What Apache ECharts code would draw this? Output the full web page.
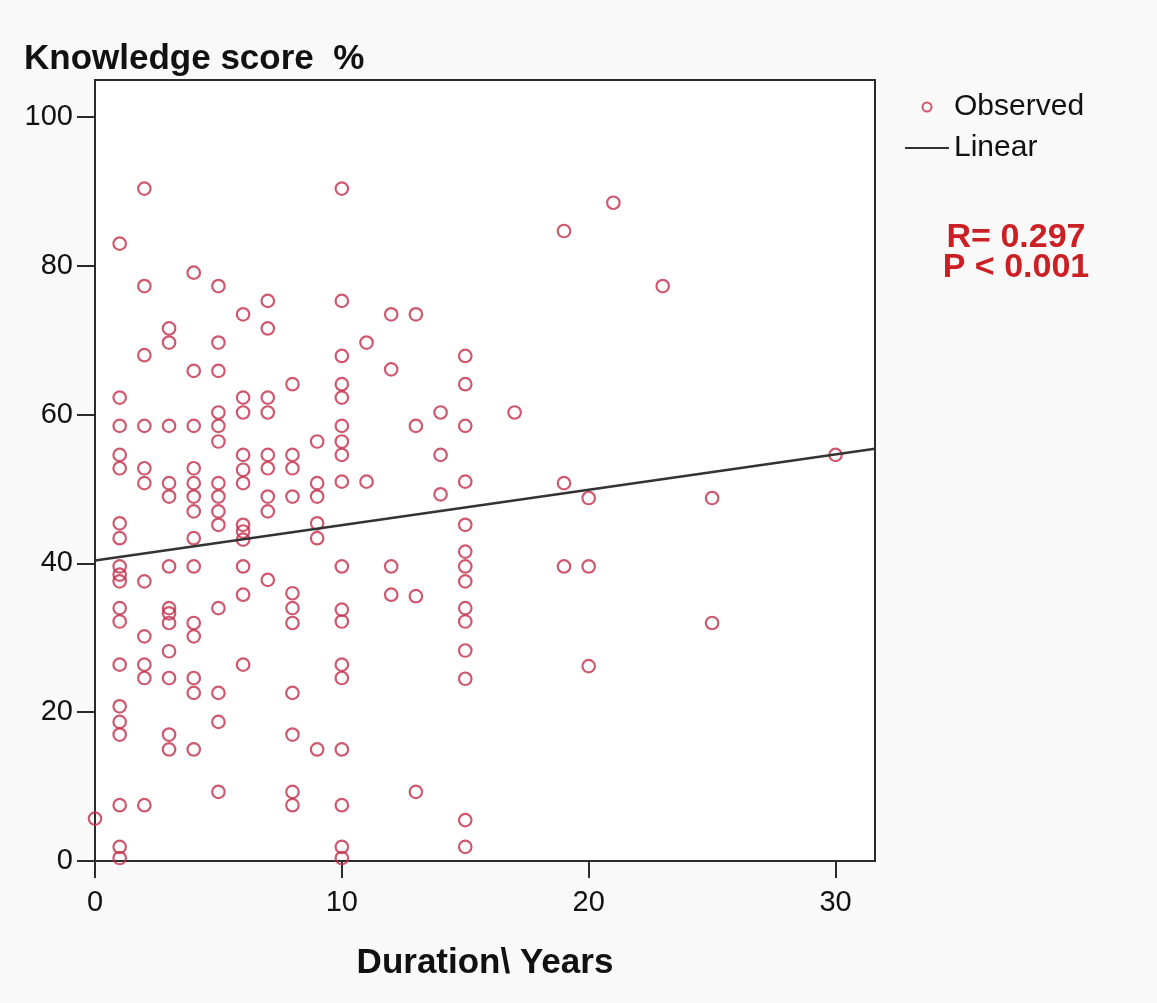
<!DOCTYPE html>
<html>
<head>
<meta charset="utf-8">
<script src="https://cdn.jsdelivr.net/npm/echarts@6/dist/echarts.min.js"></script>
<style>
html,body{margin:0;padding:0;background:#f6f6f6;}
#chart{width:1157px;height:1003px;}
</style>
</head>
<body>
<div id="chart"></div>
<script>
// Duration in years (x) and the knowledge scores observed at each duration
const years = [0, 1, 2, 3, 4, 5, 6, 7, 8, 9, 10, 11, 12, 13, 14, 15, 17, 19, 20, 21, 23, 25, 30];
const scoresByYear = [
  [5.7],
  [83, 62.3, 58.5, 54.6, 52.8, 45.4, 43.4, 39.6, 38.5, 37.6, 34, 32.2, 26.4, 20.8, 18.7, 17, 7.5, 1.9, 0.4],
  [90.4, 77.3, 68, 58.5, 52.8, 50.8, 37.6, 30.2, 26.4, 24.6, 7.5],
  [71.6, 69.7, 58.5, 50.8, 49, 39.6, 34, 33.3, 32, 28.2, 24.6, 17, 15],
  [79.1, 65.9, 58.5, 52.8, 50.8, 49, 47, 43.4, 39.6, 32, 30.2, 24.6, 22.6, 15],
  [77.3, 69.7, 65.9, 60.3, 58.5, 56.4, 50.8, 49, 47, 45.2, 34, 22.6, 18.7, 9.3],
  [73.5, 62.3, 60.3, 54.6, 52.6, 50.8, 45.2, 44.3, 43.2, 39.6, 35.8, 26.4],
  [75.3, 71.6, 62.3, 60.3, 54.6, 52.8, 49, 47, 37.8],
  [64.1, 54.6, 52.8, 49, 36, 34, 32, 22.6, 17, 9.3, 7.5],
  [56.4, 50.8, 49, 45.4, 43.4, 15],
  [90.4, 75.3, 67.9, 64.1, 62.3, 58.5, 56.4, 54.6, 51, 39.6, 33.8, 32.2, 26.4, 24.6, 15, 7.5, 1.9, 0.4],
  [69.7, 51],
  [73.5, 66.1, 39.6, 35.8],
  [73.5, 58.5, 35.6, 9.3],
  [60.3, 54.6, 49.3],
  [67.9, 64.1, 58.5, 51, 45.2, 41.6, 39.6, 37.6, 34, 32.2, 28.3, 24.5, 5.5, 1.9],
  [60.3],
  [84.7, 50.8, 39.6],
  [48.8, 39.6, 26.2],
  [88.5],
  [77.3],
  [48.8, 32],
  [54.6]
];
// Linear fit
const fitIntercept = 40.4;
const fitSlope = 0.475;
// Axes
const xRange = [0, 31.6];
const yRange = [0, 105];
const xTicks = [0, 10, 20, 30];
const yTicks = [0, 20, 40, 60, 80, 100];
const statLines = ['R= 0.297', 'P < 0.001'];

const observed = [];
years.forEach((yr, i) => scoresByYear[i].forEach(s => observed.push([yr, s])));
const fitLine = xRange.map(x => [x, fitIntercept + fitSlope * x]);

const FONT = '"Liberation Sans", Arial, sans-serif';
const chart = echarts.init(document.getElementById('chart'));
chart.setOption({
  backgroundColor: '#f9f9f9',
  animation: false,
  textStyle: { fontFamily: FONT },
  grid: {
    left: 95, top: 80, right: 282, bottom: 142,
    show: true, backgroundColor: '#ffffff', borderColor: '#2b2b2b', borderWidth: 2
  },
  title: [
    { text: 'Knowledge score  %', left: 19, top: 37,
      textStyle: { fontFamily: FONT, fontSize: 35, fontWeight: 'bold', color: '#111' } },
    { text: statLines.join('\n'), left: 1011, top: 218, textAlign: 'center',
      textStyle: { fontFamily: FONT, fontSize: 34, fontWeight: 'bold', color: '#cc1f24', lineHeight: 30 } }
  ],
  legend: {
    orient: 'vertical', left: 899, top: 87, itemWidth: 44, itemHeight: 9, itemGap: 11,
    textStyle: { fontFamily: FONT, fontSize: 30, color: '#111' },
    data: ['Observed', 'Linear']
  },
  xAxis: {
    type: 'value', min: xRange[0], max: xRange[1],
    splitLine: { show: false },
    axisLine: { show: true, onZero: false, lineStyle: { color: '#2b2b2b', width: 2 } },
    axisTick: { show: true, length: 17, lineStyle: { color: '#2b2b2b', width: 2 }, customValues: xTicks },
    axisLabel: { fontFamily: FONT, fontSize: 29, color: '#111', margin: 27, customValues: xTicks },
    name: 'Duration\\ Years', nameLocation: 'middle', nameGap: 85,
    nameTextStyle: { fontFamily: FONT, fontSize: 35, fontWeight: 'bold', color: '#111' }
  },
  yAxis: {
    type: 'value', min: yRange[0], max: yRange[1],
    splitLine: { show: false },
    axisLine: { show: true, onZero: false, lineStyle: { color: '#2b2b2b', width: 2 } },
    axisTick: { show: true, length: 18, lineStyle: { color: '#2b2b2b', width: 2 }, customValues: yTicks },
    axisLabel: { fontFamily: FONT, fontSize: 29, color: '#111', margin: 22, customValues: yTicks }
  },
  series: [
    {
      name: 'Observed', type: 'scatter', data: observed,
      symbol: 'circle', symbolSize: 12.5,
      itemStyle: { color: 'rgba(255,255,255,0)', borderColor: '#c22f4b', borderWidth: 2.2 },
      z: 3
    },
    {
      name: 'Linear', type: 'line', data: fitLine,
      showSymbol: false, symbol: 'none',
      itemStyle: { color: 'rgba(0,0,0,0)', borderWidth: 0 },
      lineStyle: { color: '#333333', width: 2.5 },
      z: 4
    }
  ]
});
</script>
</body>
</html>
